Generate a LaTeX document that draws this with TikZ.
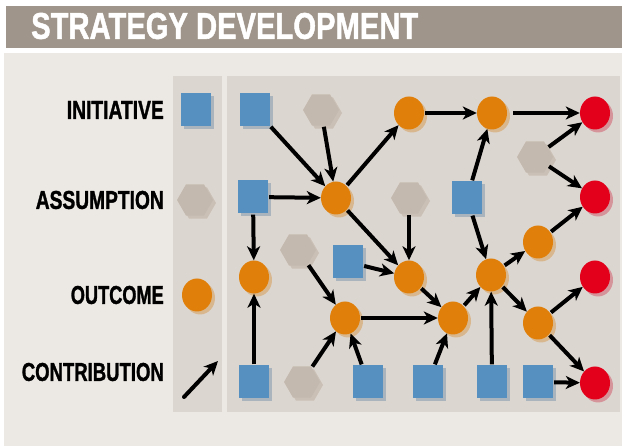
\documentclass[tikz,border=0pt]{standalone}
\usepackage{fontspec}
\setmainfont{Liberation Sans}[BoldFeatures={FakeBold=1.5}]
\usetikzlibrary{shapes.geometric,arrows.meta,shadows}
\definecolor{titlebar}{HTML}{A0958A}
\definecolor{lightbg}{HTML}{ECE9E4}
\definecolor{panel}{HTML}{DCD6D0}
\definecolor{sqblue}{HTML}{5590C0}
\definecolor{sqshadow}{HTML}{A9B4BD}
\definecolor{orng}{HTML}{E0800A}
\definecolor{orshadow}{HTML}{D8B78E}
\definecolor{rd}{HTML}{E2001A}
\definecolor{rdshadow}{HTML}{D5939A}
\definecolor{hexfill}{HTML}{C4B9AE}
\definecolor{hexshadow}{HTML}{CAC0B6}
\tikzset{
  sq/.style={rectangle,fill=sqblue,minimum width=30pt,minimum height=33pt,inner sep=0pt,
    drop shadow={shadow xshift=3pt,shadow yshift=-3pt,fill=sqshadow,opacity=1}},
  oc/.style={ellipse,fill=orng,minimum width=30pt,minimum height=33pt,inner sep=0pt,
    drop shadow={shadow xshift=3pt,shadow yshift=-3pt,fill=orshadow,opacity=1}},
  rc/.style={ellipse,fill=rd,minimum width=30pt,minimum height=33pt,inner sep=0pt,
    drop shadow={shadow xshift=3pt,shadow yshift=-3pt,fill=rdshadow,opacity=1}},
  hx/.style={regular polygon,regular polygon sides=6,fill=hexfill,minimum size=36pt,inner sep=0pt,
    drop shadow={shadow xshift=3pt,shadow yshift=-3pt,fill=hexshadow,opacity=1}},
  conn/.style={line width=4pt,-{Stealth[length=14pt,width=13pt,inset=4pt]},shorten <=1pt},
  lbl/.style={anchor=east,inner sep=0pt,text=black},
}
\begin{document}
\begin{tikzpicture}[x=1pt,y=-1pt]
\useasboundingbox (0,0) rectangle (622,446);
\fill[white] (0,0) rectangle (622,446);
% title bar
\fill[titlebar] (6,6) rectangle (622,48);
\node[anchor=west,inner sep=0pt,text=white] (title) at (31,26) {\resizebox{387pt}{26pt}{\bfseries STRATEGY DEVELOPMENT}};
% backgrounds
\fill[lightbg] (4,53) rectangle (622,446);
\fill[panel] (173,76) rectangle (222,412);
\fill[panel] (227,76) rectangle (620,412);
% legend labels
\node[lbl] (l1) at (164,110) {\resizebox{97pt}{18pt}{\bfseries INITIATIVE}};
\node[lbl] (l2) at (164,200) {\resizebox{128pt}{18pt}{\bfseries ASSUMPTION}};
\node[lbl] (l3) at (164,295) {\resizebox{93pt}{18pt}{\bfseries OUTCOME}};
\node[lbl] (l4) at (164,372) {\resizebox{142pt}{18pt}{\bfseries CONTRIBUTION}};
% legend symbols
\node[sq] (LS) at (196,109.5) {};
\node[hx] (LH) at (195,200) {};
\node[oc] (LO) at (197,295) {};
\coordinate (La) at (184,397);
\coordinate (Lb) at (218,361);
\draw[conn,shorten <=0pt,line cap=round] (La) -- (Lb);
% main nodes
\node[sq] (A1) at (255,109.5) {};
\node[hx] (H1) at (321,110) {};
\node[oc] (O2) at (409,113) {};
\node[oc] (O3) at (492,113) {};
\node[rc] (R1) at (595,113) {};
\node[hx] (H3) at (535,157) {};
\node[sq] (A2) at (253,197) {};
\node[oc] (O1) at (336,198) {};
\node[hx] (H4) at (409,198) {};
\node[sq] (B1) at (467,198) {};
\node[rc] (R2) at (595,197) {};
\node[oc] (O4) at (538,242) {};
\node[hx] (H2) at (298,250) {};
\node[sq] (M) at (348,262) {};
\node[oc] (O5) at (254,277) {};
\node[oc] (O7) at (409,277) {};
\node[oc] (O9) at (491,275) {};
\node[rc] (R3) at (595,277) {};
\node[oc] (O6) at (345,318) {};
\node[oc] (O8) at (453,318) {};
\node[oc] (O10) at (538,323) {};
\node[sq] (C1) at (254,382) {};
\node[hx] (H5) at (302,382) {};
\node[sq] (C2) at (368,382) {};
\node[sq] (C3) at (428,382) {};
\node[sq] (C4) at (492,382) {};
\node[sq] (C5) at (538,382) {};
\node[rc] (R4) at (595,383) {};
% connectors
\draw[conn] (A1) -- (O1);
\draw[conn] (H1) -- (O1);
\draw[conn] (A2) -- (O1);
\draw[conn] (O1) -- (O2);
\draw[conn] (O1) -- (O7);
\draw[conn] (A2) -- (O5);
\draw[conn] (O2) -- (O3);
\draw[conn,shorten <=6pt] (O3) -- (R1);
\draw[conn] (B1) -- (O3);
\draw[conn] (H3) -- (R1);
\draw[conn] (H3) -- (R2);
\draw[conn] (O4) -- (R2);
\draw[conn] (H4) -- (O7);
\draw[conn] (B1) -- (O9);
\draw[conn] (M) -- (O7);
\draw[conn] (O7) -- (O8);
\draw[conn] (H2) -- (O6);
\draw[conn] (C1) -- (O5);
\draw[conn] (H5) -- (O6);
\draw[conn] (C2) -- (O6);
\draw[conn] (O6) -- (O8);
\draw[conn] (C3) -- (O8);
\draw[conn] (O8) -- (O9);
\draw[conn] (O9) -- (O4);
\draw[conn] (C4) -- (O9);
\draw[conn] (O9) -- (O10);
\draw[conn] (O10) -- (R3);
\draw[conn] (O10) -- (R4);
\draw[conn] (C5) -- (R4);
\end{tikzpicture}
\end{document}
